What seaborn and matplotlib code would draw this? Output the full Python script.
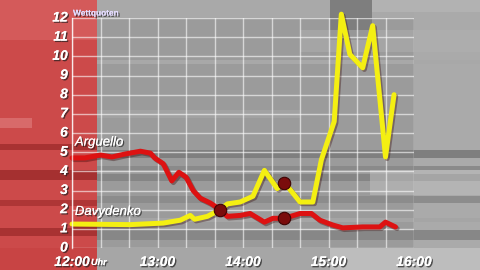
import matplotlib
matplotlib.use("Agg")
import matplotlib.pyplot as plt
import matplotlib.patheffects as pe
import matplotlib.transforms as mtransforms
from matplotlib.patches import Rectangle
from matplotlib.ticker import FixedLocator, FixedFormatter, NullFormatter
import seaborn as sns
import pandas as pd

# ---------------- data (minutes after 12:00, betting odds) ----------------
arguello_min = [0, 9, 20, 28, 37, 48, 55, 58, 64, 70, 75, 80, 85, 90, 97, 104,
                109, 118, 125, 135, 141, 149, 160, 168, 174, 183, 190, 204,
                216, 220, 227]
arguello_odds = [4.7, 4.7, 4.85, 4.75, 4.9, 5.05, 4.95, 4.7, 4.4, 3.5, 3.95,
                 3.7, 3.0, 2.6, 2.35, 2.0, 1.65, 1.7, 1.8, 1.35, 1.55, 1.55,
                 1.8, 1.8, 1.45, 1.2, 1.05, 1.1, 1.1, 1.35, 1.1]
davydenko_min = [0, 41, 64, 76, 83, 86, 95, 104, 109, 118, 127, 135, 144, 149,
                 153, 160, 169, 175, 184, 189, 195, 204, 211, 220, 226]
davydenko_odds = [1.25, 1.22, 1.3, 1.45, 1.7, 1.5, 1.65, 2.0, 2.3, 2.4, 2.7,
                  4.05, 3.1, 3.4, 3.05, 2.4, 2.4, 4.6, 6.6, 12.2, 10.1, 9.4,
                  11.6, 4.75, 8.0]
marker_min = [104, 149, 149]
marker_odds = [2.0, 3.4, 1.55]

series_names = ["Arguello", "Davydenko"]
y_ticks = list(range(0, 13))
hour_ticks = [0, 60, 120, 180, 240]
hour_labels = ["12:00", "13:00", "14:00", "15:00", "16:00"]
minor_ticks = [20, 40, 80, 100, 140, 160, 200, 220]
axis_title = "Wettquoten"
unit_label = "Uhr"

# ---------------- style ----------------
sns.set_theme(style="white")
plt.rcParams['font.family'] = ['Liberation Sans', 'DejaVu Sans']

fig = plt.figure(figsize=(4.8, 2.7), dpi=100)
fig.patch.set_facecolor('#9a9a9a')

# decorative TV-style background (pixel coordinates)
bg = fig.add_axes([0, 0, 1, 1], zorder=0)
bg.set_xlim(0, 480)
bg.set_ylim(270, 0)
bg.axis('off')

def band(x0, y0, x1, y1, c, a=1.0):
    bg.add_patch(Rectangle((x0, y0), x1 - x0, y1 - y0, facecolor=c,
                           edgecolor='none', alpha=a))

band(0, 0, 480, 270, '#9b9b9b')
band(97, 0, 480, 18, '#a9a9a9')
band(330, 0, 372, 40, '#7e7e7e')
band(372, 0, 480, 12, '#b2b2b2')
band(414, 12, 480, 248, '#aaaaaa')
band(97, 60, 480, 64, '#a8a8a8')
band(97, 110, 300, 118, '#a2a2a2')
band(97, 150, 480, 158, '#7f7f7f')
band(97, 166, 480, 170, '#8a8a8a')
band(97, 174, 480, 181, '#858585')
band(97, 196, 480, 203, '#8c8c8c')
band(97, 218, 480, 222, '#a5a5a5')
band(97, 230, 480, 240, '#878787')
band(300, 30, 480, 52, '#b0b0b0', 0.5)
band(370, 170, 480, 195, '#bcbcbc', 0.6)
band(97, 248, 480, 270, '#a6a6a6')
band(330, 248, 480, 270, '#bdbdbd')
# red panel
band(0, 0, 97, 270, '#cc4a4a')
band(0, 0, 97, 40, '#d45a5a')
band(0, 118, 32, 128, '#d86a6a')
band(0, 144, 97, 150, '#a83232')
band(0, 170, 97, 180, '#a53030')
band(0, 200, 97, 206, '#ae3636')
band(0, 228, 97, 236, '#a83232')
band(0, 248, 97, 270, '#c84444')

# ---------------- chart axes ----------------
ax = fig.add_axes([72 / 480, 22 / 270, 342 / 480, 230 / 270], zorder=1)
ax.patch.set_alpha(0)

df_a = pd.DataFrame({'minute': arguello_min, 'odds': arguello_odds})
df_d = pd.DataFrame({'minute': davydenko_min, 'odds': davydenko_odds})

line_fx = [pe.SimpleLineShadow(offset=(1.2, -1.2), shadow_color='#300000', alpha=0.35),
           pe.Normal()]
sns.lineplot(data=df_a, x='minute', y='odds', ax=ax, color='#dd1212',
             linewidth=3.6, estimator=None, sort=False,
             solid_joinstyle='round', solid_capstyle='round')
ax.lines[-1].set_path_effects(line_fx)
sns.lineplot(data=df_d, x='minute', y='odds', ax=ax, color='#f4ef12',
             linewidth=3.6, estimator=None, sort=False,
             solid_joinstyle='round', solid_capstyle='round')
ax.lines[-1].set_path_effects(line_fx)
ax.lines[-1].set_clip_on(False)
ax.lines[-2].set_clip_on(False)

sns.scatterplot(x=marker_min, y=marker_odds, ax=ax, s=80, color='#7a0c0c',
                edgecolor='#3e0303', linewidth=0.8, zorder=6)

ax.set_xlim(0, 240)
ax.set_ylim(0, 12)
ax.set_xlabel('')
ax.set_ylabel('')

ax.xaxis.set_major_locator(FixedLocator(hour_ticks))
ax.xaxis.set_major_formatter(FixedFormatter(hour_labels))
ax.xaxis.set_minor_locator(FixedLocator(minor_ticks))
ax.xaxis.set_minor_formatter(NullFormatter())
ax.set_yticks(y_ticks)
ax.set_yticklabels([str(v) for v in y_ticks])

ax.grid(True, which='both', color='white', alpha=0.6, linewidth=1.0)
ax.set_axisbelow(True)
for s in ['top', 'right', 'bottom']:
    ax.spines[s].set_visible(False)
ax.spines['left'].set_color('white')
ax.spines['left'].set_alpha(0.7)
ax.spines['left'].set_linewidth(1.0)
ax.tick_params(axis='both', which='both', length=0)
ax.tick_params(axis='x', pad=5)
ax.tick_params(axis='y', pad=3)

txt_fx = [pe.withSimplePatchShadow(offset=(1, -1), shadow_rgbFace='#202020', alpha=0.7),
          pe.Normal()]
up = mtransforms.ScaledTranslation(0, 2 / 100, fig.dpi_scale_trans)
for lab in ax.get_yticklabels():
    lab.set_fontsize(10)
    lab.set_fontweight('bold')
    lab.set_fontstyle('italic')
    lab.set_color('white')
    lab.set_path_effects(txt_fx)
    lab.set_transform(lab.get_transform() + up)
for lab in ax.get_xticklabels():
    lab.set_fontsize(10)
    lab.set_fontweight('bold')
    lab.set_fontstyle('italic')
    lab.set_color('white')
    lab.set_path_effects(txt_fx)

ax.text(2, 5.5, series_names[0], fontsize=9.5, fontstyle='italic', color='white',
        va='center', ha='left', path_effects=txt_fx, zorder=7)
ax.text(2, 1.88, series_names[1], fontsize=9.5, fontstyle='italic', color='white',
        va='center', ha='left', path_effects=txt_fx, zorder=7)

fig.text(73 / 480, 1 - 14 / 270, axis_title, fontsize=6, fontweight='bold',
         color='#e4dcff', va='center', ha='left', path_effects=txt_fx)
fig.text(91 / 480, 1 - 265 / 270, unit_label, fontsize=6.5, fontstyle='italic',
         fontweight='bold', color='white', va='baseline', ha='left',
         path_effects=txt_fx)

fig.savefig('out.png', dpi=100, facecolor=fig.get_facecolor())
